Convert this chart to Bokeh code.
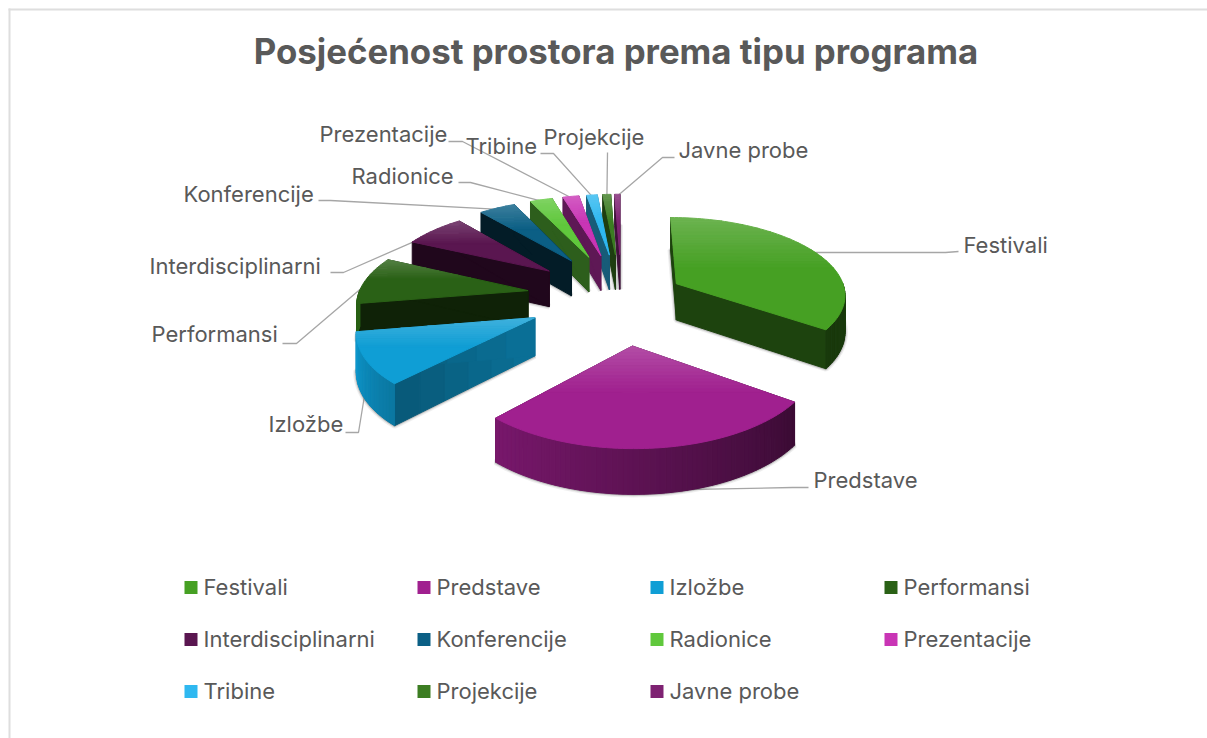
import math
import numpy as np
from bokeh.plotting import figure
from bokeh.embed import file_html
from bokeh.resources import INLINE
from bokeh.core.properties import value

# --- data ---
title = "Posjećenost prostora prema tipu programa"
categories = ["Festivali", "Predstave", "Izložbe", "Performansi", "Interdisciplinarni",
              "Konferencije", "Radionice", "Prezentacije", "Tribine", "Projekcije", "Javne probe"]
values = [35.0, 27.2, 10.4, 9.8, 6.9, 4.1, 2.5, 1.8, 1.2, 0.9, 0.6]
colors = ["#46A023", "#A0208F", "#0F9ED5", "#2A6116", "#5A1650", "#0B5F85",
          "#60C83C", "#C935B5", "#2FB8F0", "#3C7D22", "#7E2272"]
explode = [0.37, 0.60, 0.56, 0.56, 0.56, 0.58, 0.58, 0.58, 0.58, 0.58, 0.58]
wall_shade = [(.42, .42), (.4, .4), (.56, .72), (.36, .36), (.36, .36), (.3, .3),
              (.47, .47), (.47, .47), (.5, .5), (.5, .5), (.5, .5)]

# --- layout (page pixels) ---
W, H = 1207, 738
CX, CY, RX, KY, Q, DEPTH = 621, 296, 170, 77, 0.12, 37
TXT = "#595959"
FONT = "Inter"
label_pos = [(963, 244), (813, 479), (268, 423), (151, 333), (149, 265), (183, 193),
             (351, 175), (319, 133), (465, 145), (543, 136), (678, 149)]
label_elbow = [((958, 251), (945, 252)), ((808, 487), (792, 487)), ((345, 432), (358, 432)),
               ((282, 343), (296, 343)), ((330, 272), (343, 272)), ((318, 200), (330, 200)),
               ((458, 182), (470, 182)), ((448, 141), (462, 141)), ((540, 153), (553, 153)),
               ((607, 152), (607, 153)), ((674, 157), (662, 157))]
leg_x = [184, 417, 650, 884]
leg_y = [586, 638, 690]

p = figure(width=W, height=H, x_range=(0, W), y_range=(H, 0), output_backend="svg",
           toolbar_location=None, min_border=0, outline_line_color=None)
p.axis.visible = False
p.grid.visible = False
p.background_fill_color = "white"
p.border_fill_color = "white"

p.line([9, 9], [8, H], line_color="#DEDEDE", line_width=2)
p.line([8, W], [9, 9], line_color="#DEDEDE", line_width=2)


def shade(hexc, f):
    r, g, b = (int(hexc[i:i + 2], 16) for i in (1, 3, 5))
    if f <= 1:
        r, g, b = r * f, g * f, b * f
    else:
        t = f - 1
        r, g, b = r + (255 - r) * t, g + (255 - g) * t, b + (255 - b) * t
    return "#%02x%02x%02x" % (int(r), int(g), int(b))


total = sum(values)
edges = np.cumsum([0] + values) / total * 360.0


def proj(i, r, th, z=0.0):
    b = math.radians((edges[i] + edges[i + 1]) / 2)
    t = math.radians(th)
    wx = explode[i] * math.sin(b) + r * math.sin(t)
    wy = -explode[i] * math.cos(b) - r * math.cos(t)
    s = 1 / (1 - Q * wy)
    return CX + RX * wx * s, CY + KY * wy * s + z * DEPTH * s


def clip_band(poly, y0, y1):
    def clip(pts, yv, keep_below):
        out = []
        n = len(pts)
        for k in range(n):
            a, c = pts[k], pts[(k + 1) % n]
            ina = a[1] >= yv if keep_below else a[1] <= yv
            inc = c[1] >= yv if keep_below else c[1] <= yv
            if ina:
                out.append(a)
            if ina != inc:
                t = (yv - a[1]) / (c[1] - a[1])
                out.append((a[0] + t * (c[0] - a[0]), yv))
        return out
    pts = clip(poly, y0, True)
    if pts:
        pts = clip(pts, y1, False)
    return pts


def arc_shade(th):
    return float(np.interp(th, [90, 123, 224, 265], [.36, .36, .76, 1.0]))


# leader lines go under the slices, which hide their inner ends
for i, (e0, e1) in enumerate(label_elbow):
    mid = (edges[i] + edges[i + 1]) / 2
    px, py = proj(i, 0.97, mid, 1 if 130 < mid < 230 else 0)
    p.line([e0[0], e1[0], px], [e0[1], e1[1], py], line_color="#A6A6A6", line_width=1.3)

order = sorted(range(len(values)), key=lambda i: proj(i, 0, 0)[1])
for i in order:
    a0, a1 = edges[i], edges[i + 1]
    ths = np.linspace(a0, a1, max(3, int((a1 - a0) / 1.5) + 2))
    top = [proj(i, 0, 0)] + [proj(i, 1, t) for t in ths]
    bottom = [proj(i, 0, 0, 1)] + [proj(i, 1, t, 1) for t in ths]
    # soft shadow around the base
    for lw, al in ((6, .10), (3.5, .18), (2, .25)):
        p.patches([[q[0] for q in bottom]], [[q[1] for q in bottom]], fill_color="#555555",
                  fill_alpha=al, line_color="#555555", line_alpha=al, line_width=lw)
    xs, ys, cs = [], [], []
    # radial walls
    for th in (a0, a1):
        s0, s1 = wall_shade[i]
        n = 1 if s0 == s1 else 6
        for k in range(n):
            r0, r1 = k / n, (k + 1) / n
            f = s0 + (s1 - s0) * (1 - (r0 + r1) / 2)
            q = [proj(i, r0, th), proj(i, r1, th), proj(i, r1, th, 1), proj(i, r0, th, 1)]
            xs.append([c[0] for c in q]); ys.append([c[1] for c in q]); cs.append(shade(colors[i], f))
    # outer wall
    for t0, t1 in zip(ths[:-1], ths[1:]):
        tm = (t0 + t1) / 2
        if 90 <= tm <= 270:
            q = [proj(i, 1, t0), proj(i, 1, t1), proj(i, 1, t1, 1), proj(i, 1, t0, 1)]
            xs.append([c[0] for c in q]); ys.append([c[1] for c in q]); cs.append(shade(colors[i], arc_shade(tm)))
    # top face: rear part lighter
    ymin = min(c[1] for c in top)
    ymax = max(c[1] for c in top)
    span = ymax - ymin
    fade = max(span * .45, 10)
    nb = 14
    yb = [ymin + fade * k / nb for k in range(nb + 1)] + [ymax + 1]
    for k in range(len(yb) - 1):
        if yb[k] >= ymax:
            break
        poly = clip_band(top, yb[k], yb[k + 1])
        if len(poly) < 3:
            continue
        f = 1 + 0.2 * (1 - k / nb) if k < nb else 1.0
        xs.append([c[0] for c in poly]); ys.append([c[1] for c in poly]); cs.append(shade(colors[i], f))
    p.patches(xs, ys, fill_color=cs, line_color=cs, line_width=1.0)

# labels
lx, ly = zip(*label_pos)
p.text(list(lx), list(ly), text=categories, text_font=value(FONT), text_font_size="22px",
       text_color=TXT, text_baseline="middle", text_align="left")

# legend
for k, name in enumerate(categories):
    col, row = k % 4, k // 4
    p.rect(leg_x[col] + 6.5, leg_y[row] + 1, 13, 13, fill_color=colors[k], line_color=None)
    p.text([leg_x[col] + 19], [leg_y[row]], text=[name], text_font=value(FONT), text_font_size="22px",
           text_color=TXT, text_baseline="middle", text_align="left")

# title
p.text([615.5], [50], text=[title], text_font=value("Inter"), text_font_size="34.8px", text_font_style="bold",
       text_color=TXT, text_baseline="middle", text_align="center")

open("out.html", "w").write(file_html(p, INLINE))
